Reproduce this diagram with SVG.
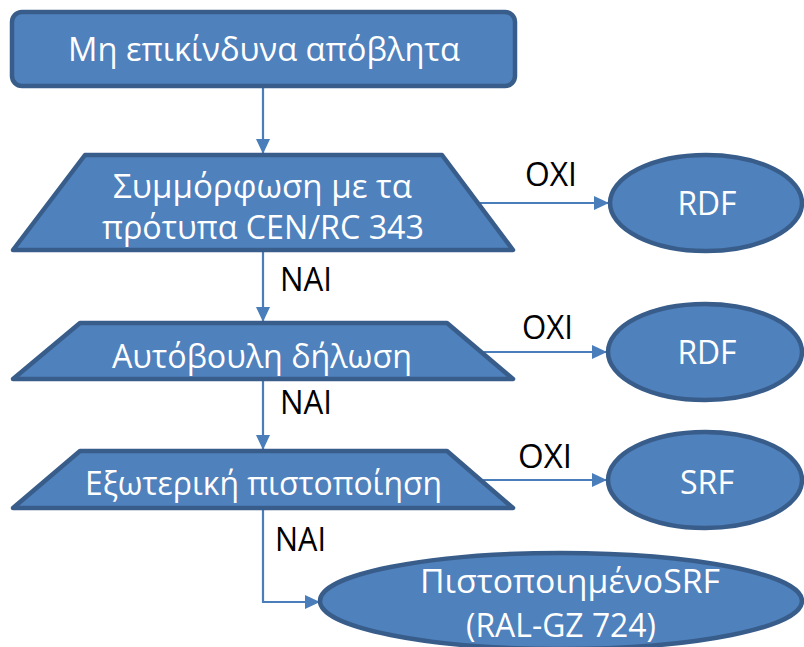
<svg xmlns="http://www.w3.org/2000/svg" width="804" height="647" viewBox="0 0 804 647">
  <style>
    .shape { fill: #4F81BD; stroke: #385D8A; stroke-width: 4.5; stroke-linejoin: round; }
    .wt { fill: #FFFFFF; font-family: "Open Sans", "Liberation Sans", sans-serif; font-size: 33px; text-anchor: middle; }
    .lbl { fill: #000000; font-family: "Open Sans", "Liberation Sans", sans-serif; font-size: 32px; }
    .conn { fill: none; stroke: #4A7EBB; stroke-width: 2.2; marker-end: url(#arrow); }
  </style>
  <defs>
    <marker id="arrow" viewBox="0 0 15 14" refX="15" refY="7" markerWidth="15" markerHeight="14" markerUnits="userSpaceOnUse" orient="auto">
      <path d="M0,0 L15,7 L0,14 z" fill="#4A7EBB"/>
    </marker>
  </defs>

  <g id="connectors">
    <path class="conn" d="M263,86 L263,154"/>
    <path class="conn" d="M263,250 L263,322"/>
    <path class="conn" d="M263,379 L263,450"/>
    <path class="conn" d="M263,508 L263,602 L320,602"/>
    <path class="conn" d="M477,203 L609,203"/>
    <path class="conn" d="M480,352 L607,352"/>
    <path class="conn" d="M480,480 L607,480"/>
    <text class="lbl" x="525" y="186" textLength="52" lengthAdjust="spacingAndGlyphs">OXI</text>
    <text class="lbl" x="522" y="339" textLength="51" lengthAdjust="spacingAndGlyphs">OXI</text>
    <text class="lbl" x="518" y="468" textLength="54" lengthAdjust="spacingAndGlyphs">OXI</text>
    <text class="lbl" x="280" y="291" textLength="52" lengthAdjust="spacingAndGlyphs">NAI</text>
    <text class="lbl" x="280" y="414" textLength="52" lengthAdjust="spacingAndGlyphs">NAI</text>
    <text class="lbl" x="275" y="551" textLength="51" lengthAdjust="spacingAndGlyphs">NAI</text>
  </g>

  <g id="start">
    <rect class="shape" x="12" y="12" width="503" height="74" rx="10" ry="10"/>
    <text class="wt" x="264" y="61" textLength="392" lengthAdjust="spacingAndGlyphs">Μη επικίνδυνα απόβλητα</text>
  </g>

  <g id="decision1">
    <polygon class="shape" points="85,155 442,155 513,250 13,250"/>
    <text class="wt" x="262.5" y="198" textLength="299" lengthAdjust="spacingAndGlyphs">Συμμόρφωση με τα</text>
    <text class="wt" x="263" y="239" textLength="322" lengthAdjust="spacingAndGlyphs">πρότυπα CEN/RC 343</text>
  </g>

  <g id="decision2">
    <polygon class="shape" points="80,323 447,323 513,379 13,379"/>
    <text class="wt" x="262" y="368" textLength="300" lengthAdjust="spacingAndGlyphs">Αυτόβουλη δήλωση</text>
  </g>

  <g id="decision3">
    <polygon class="shape" points="80,451 447,451 513,508 13,508"/>
    <text class="wt" x="263.5" y="495" textLength="357" lengthAdjust="spacingAndGlyphs">Εξωτερική πιστοποίηση</text>
  </g>

  <g id="rdf1">
    <ellipse class="shape" cx="706" cy="203" rx="96" ry="48"/>
    <text class="wt" x="707" y="215" textLength="59" lengthAdjust="spacingAndGlyphs">RDF</text>
  </g>

  <g id="rdf2">
    <ellipse class="shape" cx="705" cy="352" rx="97" ry="48"/>
    <text class="wt" x="707" y="364" textLength="59" lengthAdjust="spacingAndGlyphs">RDF</text>
  </g>

  <g id="srf">
    <ellipse class="shape" cx="705" cy="480" rx="97" ry="48"/>
    <text class="wt" x="707" y="494" textLength="54" lengthAdjust="spacingAndGlyphs">SRF</text>
  </g>

  <g id="certified">
    <ellipse class="shape" cx="561" cy="601" rx="241" ry="48"/>
    <text class="wt" x="570" y="593" textLength="300" lengthAdjust="spacingAndGlyphs">ΠιστοποιημένοSRF</text>
    <text class="wt" x="561" y="637" textLength="190" lengthAdjust="spacingAndGlyphs">(RAL-GZ 724)</text>
  </g>
</svg>
